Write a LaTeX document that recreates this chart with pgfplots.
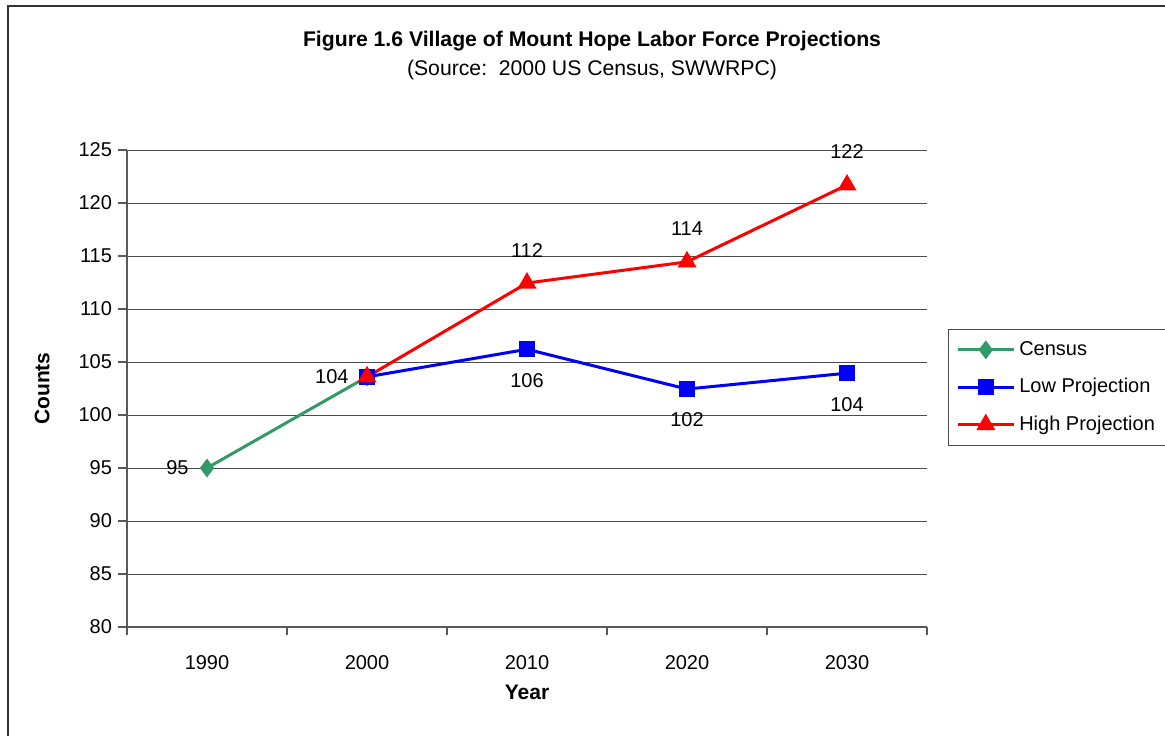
\documentclass[border=0pt]{standalone}
\usepackage{fontspec}
\setmainfont{Liberation Sans}
\usepackage{pgfplots}
\pgfplotsset{compat=1.18}
\definecolor{censusgreen}{RGB}{51,153,102}
\begin{document}
\begin{tikzpicture}[x=1pt,y=1pt]
\useasboundingbox (0pt,0pt) rectangle (582.5pt,-368pt);
\draw[line width=1pt, black!80] (4pt,-368pt) -- (4pt,-3pt) -- (582.5pt,-3pt);
\node[font=\fontsize{10.6}{12}\selectfont\bfseries] at (296pt,-20.5pt) {Figure 1.6 Village of Mount Hope Labor Force Projections};
\node[font=\fontsize{10.6}{12}\selectfont] at (296pt,-35pt) {(Source:\ \ 2000 US Census, SWWRPC)};
\begin{axis}[
  at={(63.5pt,-313.5pt)}, anchor=south west,
  scale only axis, width=400pt, height=238.5pt,
  xmin=-0.5, xmax=4.5, ymin=80, ymax=125,
  clip=false,
  axis x line=bottom, axis y line=left,
  axis line style={-, black!65, line width=0.6pt},
  xtick={0,...,4}, xticklabels={1990,2000,2010,2020,2030},
  major x tick style={draw=none},
  minor xtick={-0.5,0.5,...,4.5},
  minor tick length=4pt, major tick length=4.5pt,
  tick align=outside,
  tick style={black!65, line width=0.6pt},
  ytick={80,85,...,125},
  ymajorgrids, grid style={black!70, line width=0.5pt},
  tick label style={font=\fontsize{10}{12}\selectfont},
  /pgf/number format/assume math mode=true,
  xticklabel style={yshift=-6pt},
  yticklabel style={xshift=0.5pt},
  xlabel={Year}, ylabel={Counts},
  label style={font=\fontsize{10.5}{12}\selectfont\bfseries},
  xlabel style={at={(rel axis cs:0.5,-0.138)}, anchor=center},
  ylabel style={at={(rel axis cs:-0.106,0.5)}, anchor=center},
  legend style={at={(1.026,0.625)}, anchor=north west,
    draw=black!70, line width=0.5pt,
    font=\fontsize{10}{12}\selectfont,
    row sep=6pt, inner xsep=4pt, inner ysep=4pt,
    cells={anchor=west}},
  legend image code/.code={\draw[#1, mark repeat=2, mark phase=2] plot coordinates {(0pt,0pt) (14pt,0pt) (28pt,0pt)};},
  every node near coord/.append style={text=black, font=\fontsize{10}{12}\selectfont},
]
\addplot[censusgreen, line width=1.5pt, mark=diamond*, mark size=3.5pt,
  mark options={solid, fill=censusgreen},
  nodes near coords, point meta=explicit symbolic,
  every node near coord/.append style={anchor=east, inner sep=0pt, xshift=-8.5pt, yshift=0pt}]
  coordinates {(0,95) [95] (1,103.6) [104]};
\addlegendentry{Census}
\addplot[blue, line width=1.5pt, mark=square*, mark size=3.2pt,
  mark options={solid, fill=blue},
  nodes near coords, point meta=explicit symbolic,
  every node near coord/.append style={anchor=center, inner sep=0pt, yshift=-15.5pt}]
  coordinates {(1,103.6) [] (2,106.2) [106] (3,102.45) [102] (4,103.95) [104]};
\addlegendentry{Low Projection}
\addplot[red, line width=1.5pt, mark=triangle*, mark size=4pt,
  mark options={solid, fill=red},
  nodes near coords, point meta=explicit symbolic,
  every node near coord/.append style={anchor=center, inner sep=0pt, yshift=16.5pt}]
  coordinates {(1,103.6) [] (2,112.45) [112] (3,114.45) [114] (4,121.7) [122]};
\addlegendentry{High Projection}
\end{axis}
\end{tikzpicture}
\end{document}
